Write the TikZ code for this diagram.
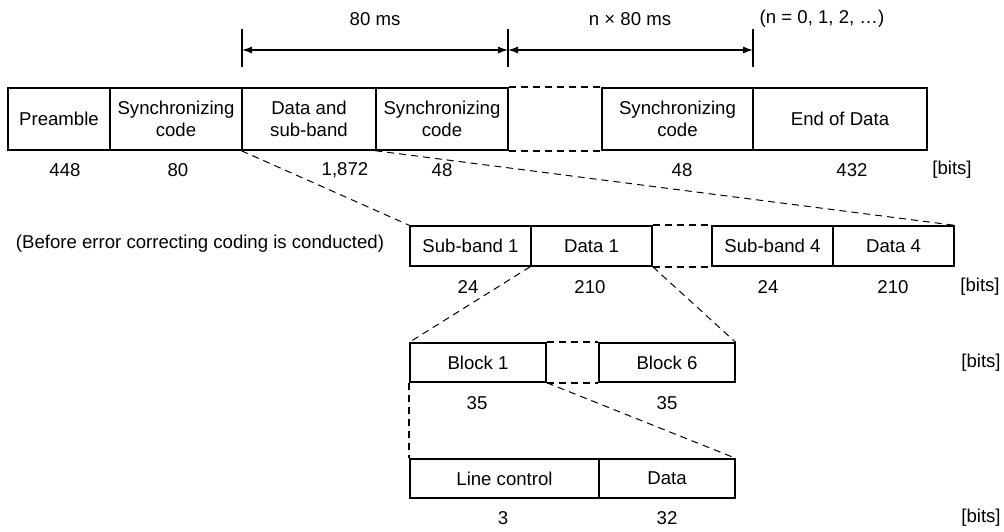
\documentclass[tikz,border=0pt]{standalone}
\usepackage{fontspec}
\setmainfont{Liberation Sans}
\usetikzlibrary{arrows.meta, positioning}

\begin{document}
\begin{tikzpicture}[
    x=1pt, y=-1pt,
    every node/.style={font=\fontsize{18.6}{22}\selectfont, inner sep=0pt},
    field/.style={draw, line width=1.4pt, minimum width=#1, align=center},
    toprow/.style={field=#1, minimum height=62pt},
    subrow/.style={field=#1, minimum height=40pt},
    blkrow/.style={field=#1, minimum height=39pt},
    gapline/.style={line width=2.2pt, dash pattern=on 7pt off 5pt},
    zoomline/.style={line width=1pt, dash pattern=on 7pt off 5pt},
    span/.style={line width=1.2pt, {Latex[length=10pt,width=7pt]}-{Latex[length=10pt,width=7pt]}}
]
    \useasboundingbox (0,0) rectangle (1004,531);

    % frame
    \node[toprow=102pt] (pre)    at (59,119)    {Preamble};
    \node[toprow=132pt] (syncA)  at (176,119)   {Synchronizing\\code};
    \node[toprow=134pt] (datsub) at (309,119)   {Data and\\sub-band};
    \node[toprow=132pt] (syncB)  at (442,119)   {Synchronizing\\code};
    \node[toprow=151pt] (syncC)  at (677.5,119) {Synchronizing\\code};
    \node[toprow=174pt] (eod)    at (840,119)   {End of Data};
    \draw[gapline] (syncB.north east) -- (syncC.north west);
    \draw[gapline] (syncB.south east) -- (syncC.south west);

    \node (b448) at (65,170)  {448};
    \node (b80)  at (178,170) {80};
    \node (b1872) at (345,170) {1,872};
    \node (b48a) at (442,170) {48};
    \node (b48b) at (682,170) {48};
    \node (b432) at (852,170) {432};
    \node (bits1) at (952,170) {[bits]};

    % time spans
    \coordinate (t1) at (242,50);
    \coordinate (t2) at (508,50);
    \coordinate (t3) at (753,50);
    \foreach \t in {t1,t2,t3}
        \draw[line width=1.4pt] ([yshift=21pt]\t) -- ([yshift=-17pt]\t);
    \draw[span] (t1) -- (t2);
    \draw[span] (t2) -- (t3);
    \node (ms80)  at (375,19) {80 ms};
    \node (msn80) at (630,19) {n × 80 ms};
    \node (nval)  at (822,19) {(n = 0, 1, 2, …)};

    % sub-bands
    \node (note) at (200,244) {(Before error correcting coding is conducted)};
    \node[subrow=121pt] (sub1) at (470.5,246) {Sub-band 1};
    \node[subrow=121pt] (dat1) at (591.5,246) {Data 1};
    \node[subrow=121pt] (sub4) at (772.5,246) {Sub-band 4};
    \node[subrow=121pt] (dat4) at (893.5,246) {Data 4};
    \draw[gapline] (dat1.north east) -- (sub4.north west);
    \draw[gapline] (dat1.south east) -- (sub4.south west);
    \draw[zoomline] (datsub.south west) -- (sub1.north west);
    \draw[zoomline] (syncB.south west) -- (dat4.north east);

    \node (s24a)  at (468,287) {24};
    \node (s210a) at (590,287) {210};
    \node (s24b)  at (768,287) {24};
    \node (s210b) at (893,287) {210};
    \node (bits2) at (980,287) {[bits]};

    % blocks
    \node[blkrow=136pt] (blk1) at (478,362.5) {Block 1};
    \node[blkrow=136pt] (blk6) at (667,362.5) {Block 6};
    \draw[gapline] (blk1.north east) -- (blk6.north west);
    \draw[gapline] (blk1.south east) -- (blk6.south west);
    \draw[zoomline] (dat1.south west) -- (blk1.north west);
    \draw[zoomline] (dat1.south east) -- (blk6.north east);

    \node (k35a)  at (477,403) {35};
    \node (k35b)  at (667,403) {35};
    \node (bits3) at (981,363) {[bits]};

    % block content
    \node[blkrow=189pt] (lctl) at (504.5,478.5) {Line control};
    \node[blkrow=136pt] (ldat) at (667,478.5)   {Data};
    \draw[gapline] (blk1.south west) -- (lctl.north west);
    \draw[zoomline] (blk1.south east) -- (ldat.north east);

    \node (l3)    at (503,518) {3};
    \node (l32)   at (667,518) {32};
    \node (bits4) at (981,518) {[bits]};
\end{tikzpicture}
\end{document}
